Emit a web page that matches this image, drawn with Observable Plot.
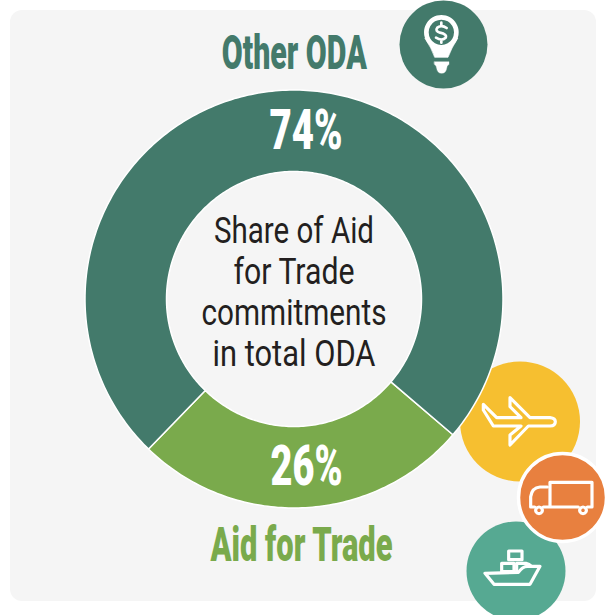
<!DOCTYPE html>
<html><head><meta charset="utf-8">
<script src="https://cdn.jsdelivr.net/npm/d3@7"></script>
<script src="https://cdn.jsdelivr.net/npm/@observablehq/plot@0.6"></script>
<style>html,body{margin:0;padding:0;background:#fff}svg{display:block}</style>
</head><body><div id="chart"></div>
<script>
const categories = ["Aid for Trade", "Other ODA"];
const shares = [26, 74];
const shareLabels = ["26%", "74%"];
const centerLines = ["Share of Aid", "for Trade", "commitments", "in total ODA"];
const sliceColors = ["#7aaa4c", "#437a6b"];
const labelWidths = {"Share of Aid":160,"for Trade":121,"commitments":185,"in total ODA":163,"Other ODA":145,"Aid for Trade":182,"74%":73,"26%":72};

const W = 605, H = 615;
const cx = 293.5, cy = 298.5, R = 209, r0 = 127.5;
const rotation = 130.5;
const font = "Roboto,sans-serif";

const pie = d3.pie().sort(null).value(d => d.share).startAngle(rotation * Math.PI / 180).endAngle((rotation + 360) * Math.PI / 180);
const slices = pie(categories.map((c, i) => ({category: c, share: shares[i]})));
const outline = [];
slices.forEach(s => {
  const steps = Math.ceil((s.endAngle - s.startAngle) * 60);
  const pts = [];
  for (let k = 0; k <= steps; k++) { const a = s.startAngle + (s.endAngle - s.startAngle) * k / steps; pts.push([cx + R * Math.sin(a), cy - R * Math.cos(a)]); }
  for (let k = steps; k >= 0; k--) { const a = s.startAngle + (s.endAngle - s.startAngle) * k / steps; pts.push([cx + r0 * Math.sin(a), cy - r0 * Math.cos(a)]); }
  pts.push(pts[0]);
  pts.forEach(p => outline.push({x: p[0], y: p[1], category: s.data.category}));
});

const circle = (x, y, rad, fill, stroke, sw) => Plot.dot([{x, y}], {x: "x", y: "y", r: rad, fill, stroke: stroke || "none", strokeWidth: sw || 0});
const icon = (ox, oy, paths) => (index, scales, values, dims, ctx) => {
  const g = d3.select(ctx.document.createElementNS("http://www.w3.org/2000/svg", "g"))
    .attr("transform", `translate(${ox},${oy}) scale(${1/3})`)
    .attr("fill", "none").attr("stroke", "#fff").attr("stroke-width", 9.5).attr("stroke-linejoin", "round").attr("stroke-linecap", "round");
  paths.forEach(p => {
    const e = g.append("path").attr("d", p.d || p);
    if (p.fill) e.attr("fill", p.fill);
    if (p.stroke) e.attr("stroke", p.stroke);
    if (p.width) e.attr("stroke-width", p.width);
  });
  return g.node();
};

const bulb = [
  {d: "M105 115 Q125 145 134 172 L174 172 Q184 145 203 115 Z", fill: "#fff", stroke: "#fff", width: 2},
  {d: "M154 45 a52 52 0 1 0 0.1 0 Z", fill: "#fff", stroke: "none"},
  {d: "M154 59 a38 38 0 1 0 0.1 0 Z", fill: "#437a6b", stroke: "none"},
  {d: "M170 84 Q155 73 142 83 Q134 93 150 98 Q172 103 167 113 Q155 124 138 113 M154 68 L154 76 M154 120 L154 128", width: 8},
  {d: "M133 185 L177 185 L177 193 Q170 198 170 205 Q168 220 155 220 Q142 220 140 205 Q140 198 133 193 Z", fill: "#fff", stroke: "#fff", width: 1}
];
const plane = ["M100 148 L140 188 L213 188 L180 155 L180 128 L240 188 L300 188 Q316 190 316 200 Q316 212 300 213 L235 213 L180 270 L180 240 L213 213 L130 213 L100 165 Z"];
const truck = [
  "M300 456 L300 382 L426 382 L426 456 L412 456 M385 456 L280 456",
  "M292 396 L270 396 Q246 398 242 425 L242 456 L254 456",
  "M267 456 a10 10 0 1 0 0.1 0 Z",
  "M399 456 a10 10 0 1 0 0.1 0 Z"
];
const ship = [
  "M105 655 L205 652 Q218 634 232 634 L270 634 L240 688 L132 688 Z",
  "M176 588 L216 588 L216 614 L176 614 Z",
  "M155 625 L192 625 L192 650 L155 650 Z",
  "M200 650 L200 625 L228 625 Q238 627 244 634"
];

const noop = [{}];
const bold = {fontWeight: 900};
const chart = Plot.plot({
  width: W, height: H, margin: 0,
  x: {domain: [0, W], range: [0, W], axis: null},
  y: {domain: [0, H], range: [0, H], axis: null},
  style: {background: "#fff", fontFamily: font},
  color: {domain: categories, range: sliceColors},
  marks: [
    Plot.rect(noop, {x1: 10, x2: 596, y1: 10, y2: 601, fill: "#f5f5f5", rx: 12}),
    circle(443, 44, 44, "#437a6b"),
    circle(519.5, 421, 60, "#f6bf30"),
    circle(515.5, 570.5, 49.5, "#56a992"),
    circle(562, 497, 44, "#e8803f", "#fff", 3.5),
    Plot.line(outline, {x: "x", y: "y", z: "category", fill: "category", stroke: "#fff", strokeWidth: 1.5, curve: "linear"}),
    Plot.text(centerLines, {x: () => cx, y: (d, i) => 231.3 + i * 40.7, text: d => d, fontSize: 36.5, fill: "#231f20", fontFamily: font}),
    Plot.text([shareLabels[1]], {x: () => 305.5, y: () => 131, text: d => d, fontSize: 56, ...bold, fill: "#fff"}),
    Plot.text([shareLabels[0]], {x: () => 306, y: () => 467, text: d => d, fontSize: 56, ...bold, fill: "#fff"}),
    Plot.text([categories[1]], {x: () => 293.8, y: () => 53.6, text: d => d, fontSize: 48, ...bold, fill: "#437a6b"}),
    Plot.text([categories[0]], {x: () => 301, y: () => 545.6, text: d => d, fontSize: 48, ...bold, fill: "#7aaa4c"}),
    icon(390, 0, bulb),
    icon(450, 355, plane),
    icon(450, 355, truck),
    icon(450, 355, ship)
  ]
});
chart.querySelectorAll("text").forEach(t => {
  const w = labelWidths[t.textContent];
  if (w) { t.setAttribute("textLength", w); t.setAttribute("lengthAdjust", "spacingAndGlyphs"); }
});
document.getElementById("chart").appendChild(chart);
</script></body></html>
